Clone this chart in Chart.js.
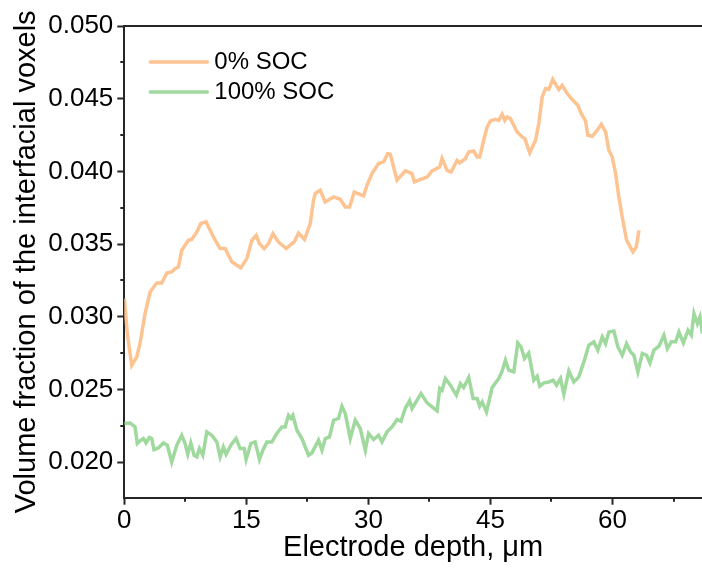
<!DOCTYPE html>
<html>
<head>
<meta charset="utf-8">
<title>Interfacial voxels vs electrode depth</title>
<script src="https://cdn.jsdelivr.net/npm/chart.js@4.4.1/dist/chart.umd.min.js"></script>
<style>
  html, body { margin: 0; padding: 0; background: #fff; }
  canvas { display: block; }
</style>
</head>
<body>
<canvas id="depthChart" width="702" height="570"></canvas>
<script>
const depthTicks = [0, 15, 30, 45, 60];
const fractionTicks = [0.020, 0.025, 0.030, 0.035, 0.040, 0.045, 0.050];
const seriesLabels = ["0% SOC", "100% SOC"];

// 0% SOC profile
const soc0Depth = [0.0, 0.37, 0.91, 1.53, 1.93, 2.55, 3.17, 3.99, 4.60, 5.22, 5.83, 6.24, 6.64, 7.06, 7.87, 8.29, 8.91, 9.40, 10.05, 10.55,
  11.16, 11.78, 12.39, 13.22, 13.83, 14.32, 15.06, 15.68, 16.21, 16.61, 17.19, 17.72, 18.26, 18.95, 19.90, 20.60, 20.88, 21.41, 22.15, 22.85,
  23.26, 23.47, 24.08, 24.69, 25.72, 26.54, 27.16, 27.69, 28.26, 29.41, 29.83, 30.44, 31.25, 31.87, 32.36, 32.69, 33.52, 34.54, 35.36, 35.65,
  36.39, 37.21, 37.82, 38.76, 39.05, 39.67, 40.16, 40.90, 41.22, 41.92, 42.33, 42.94, 43.36, 43.68, 44.17, 44.59, 45.00, 45.61, 46.02, 46.44,
  46.76, 47.05, 47.46, 48.28, 48.90, 49.22, 49.83, 50.54, 50.94, 51.36, 51.77, 52.17, 52.66, 53.40, 53.82, 54.44, 55.05, 55.74, 56.16, 56.69,
  56.97, 57.51, 58.13, 58.62, 59.15, 59.55, 59.97, 60.38, 60.78, 61.20, 61.73, 62.51, 62.93, 63.25];
const soc0Fraction = [0.03125, 0.02884, 0.02666, 0.02723, 0.02816, 0.03022, 0.0317, 0.03232, 0.03232, 0.03301, 0.03308, 0.03331, 0.03342, 0.03457, 0.03526, 0.03531, 0.03583, 0.03641, 0.03652, 0.03595,
  0.03526, 0.03469, 0.03469, 0.03377, 0.03354, 0.03336, 0.0340, 0.03526, 0.0356, 0.03503, 0.03469, 0.03503, 0.03572, 0.03514, 0.03469, 0.03503, 0.03514, 0.03576, 0.03531, 0.03641,
  0.03801, 0.03849, 0.0387, 0.03789, 0.03824, 0.03808, 0.03755, 0.03755, 0.03858, 0.03831, 0.03904, 0.03985, 0.04054, 0.04065, 0.04122, 0.04118, 0.03939, 0.04003, 0.03985, 0.03927,
  0.03944, 0.03961, 0.04003, 0.0403, 0.04088, 0.04007, 0.03996, 0.04076, 0.04058, 0.04088, 0.04133, 0.0414, 0.04099, 0.04099, 0.04214, 0.04305, 0.04347, 0.04358, 0.04351, 0.04393,
  0.04351, 0.04374, 0.04363, 0.04271, 0.04237, 0.04226, 0.04127, 0.04214, 0.04329, 0.04512, 0.04569, 0.04563, 0.04633, 0.04563, 0.04592, 0.04535, 0.04494, 0.04455, 0.04397, 0.04347,
  0.04248, 0.04241, 0.04283, 0.04324, 0.04271, 0.04145, 0.04099, 0.03985, 0.03824, 0.03686, 0.03526, 0.03446, 0.0348, 0.03595];

// 100% SOC profile
const soc100Depth = [0.0, 0.70, 1.32, 1.60, 2.02, 2.34, 2.67, 3.08, 3.37, 3.65, 4.18, 4.80, 5.29, 5.83, 6.45, 7.06, 7.47, 7.80, 8.17, 8.58,
  8.91, 9.23, 9.65, 10.14, 10.75, 11.37, 11.78, 12.18, 12.51, 13.09, 13.74, 14.24, 14.73, 14.97, 15.55, 16.08, 16.61, 17.03, 17.52, 18.14,
  18.75, 19.37, 19.77, 20.18, 20.48, 20.72, 21.21, 21.83, 22.64, 23.06, 23.87, 24.29, 24.70, 25.22, 25.72, 26.33, 26.75, 27.16, 27.77, 28.39,
  29.00, 29.62, 30.02, 30.64, 31.25, 31.67, 32.29, 32.90, 33.52, 34.01, 34.54, 35.07, 35.36, 35.98, 36.47, 37.21, 37.82, 38.44, 38.76, 39.05,
  39.46, 40.08, 40.81, 41.31, 41.71, 42.33, 42.87, 43.36, 43.68, 43.98, 44.51, 45.21, 46.02, 46.44, 46.84, 47.25, 47.87, 48.36, 48.77, 49.18,
  49.71, 50.33, 50.74, 51.06, 51.56, 52.17, 52.71, 53.12, 53.61, 54.02, 54.63, 55.25, 55.86, 56.48, 57.09, 57.71, 58.20, 58.74, 59.15, 59.55,
  60.17, 60.66, 61.20, 61.73, 62.22, 62.63, 63.12, 63.66, 64.19, 64.60, 65.09, 65.71, 66.32, 66.74, 67.23, 67.76, 68.17, 68.71, 69.28, 69.69,
  70.01, 70.43, 70.75, 71.05];
const soc100Fraction = [0.02265, 0.02269, 0.02242, 0.02128, 0.0215, 0.02162, 0.02132, 0.02169, 0.02162, 0.02086, 0.02097, 0.02132, 0.02116, 0.02001, 0.02116, 0.02185, 0.02128, 0.02054, 0.02132, 0.02047,
  0.02036, 0.02093, 0.02047, 0.02208, 0.02185, 0.02139, 0.02036, 0.02104, 0.02054, 0.02116, 0.02162, 0.02093, 0.02093, 0.02018, 0.02128, 0.02139, 0.02018, 0.02082, 0.02139, 0.02139,
  0.02197, 0.02242, 0.02242, 0.02322, 0.023, 0.02322, 0.02219, 0.02162, 0.02047, 0.02063, 0.0215, 0.02082, 0.02162, 0.02173, 0.02288, 0.023, 0.02384, 0.02334, 0.02162, 0.02288,
  0.02231, 0.02082, 0.02197, 0.02155, 0.02185, 0.02139, 0.02208, 0.02242, 0.02293, 0.0228, 0.0237, 0.02422, 0.02368, 0.02426, 0.02472, 0.02407, 0.0238, 0.02352, 0.02506, 0.02494,
  0.02575, 0.02529, 0.0246, 0.0254, 0.02513, 0.02582, 0.02437, 0.02437, 0.02384, 0.02414, 0.02345, 0.02513, 0.02575, 0.02627, 0.02701, 0.02632, 0.0262, 0.0282, 0.02792, 0.02712,
  0.0275, 0.02563, 0.02591, 0.02522, 0.02545, 0.02551, 0.02563, 0.02529, 0.02575, 0.02467, 0.02627, 0.02551, 0.02586, 0.02689, 0.02804, 0.02827, 0.0277, 0.02861, 0.02815, 0.02895,
  0.02902, 0.02792, 0.02735, 0.02815, 0.02758, 0.02735, 0.0262, 0.02747, 0.02735, 0.02682, 0.0277, 0.02797, 0.02873, 0.02781, 0.02827, 0.02827, 0.02895, 0.0282, 0.02907, 0.02873,
  0.03022, 0.02953, 0.02999, 0.02884];

const orange = "#FDC391";
const green = "#9FD99D";
const axisColor = "#262626";
const fontFamily = "'Liberation Sans', Arial, sans-serif";

function toPoints(xs, ys) {
    return xs.map((x, i) => ({ x: x, y: ys[i] }));
}

// half-step ticks between the labelled ones
function minorValues(major, min, max) {
    const half = (major[1] - major[0]) / 2;
    const out = [];
    major.forEach(v => {
        [v - half, v + half].forEach(m => {
            if (m > min && m < max && !out.some(o => Math.abs(o - m) < half / 10)) out.push(m);
        });
    });
    return out;
}

const frameAndMinorTicks = {
    id: "frameAndMinorTicks",
    afterDraw(chart) {
        const ctx = chart.ctx;
        const area = chart.chartArea;
        const xs = chart.scales.x;
        const ys = chart.scales.y;
        ctx.save();
        ctx.strokeStyle = axisColor;
        ctx.lineWidth = 2;
        ctx.beginPath();
        ctx.moveTo(area.left - 1, area.top);
        ctx.lineTo(area.right, area.top);
        minorValues(depthTicks, xs.min, xs.max).forEach(v => {
            const px = Math.round(xs.getPixelForValue(v));
            ctx.moveTo(px, area.bottom);
            ctx.lineTo(px, area.bottom + 4);
        });
        minorValues(fractionTicks, ys.min, ys.max).forEach(v => {
            const py = Math.round(ys.getPixelForValue(v));
            ctx.moveTo(area.left - 4, py);
            ctx.lineTo(area.left, py);
        });
        ctx.stroke();
        ctx.restore();
    }
};

// legend sits inside the plot, top left
const insideLegend = {
    id: "insideLegend",
    afterDraw(chart) {
        const ctx = chart.ctx;
        const area = chart.chartArea;
        ctx.save();
        ctx.font = "24px " + fontFamily;
        ctx.textBaseline = "middle";
        ctx.textAlign = "left";
        chart.data.datasets.forEach((ds, i) => {
            const y = area.top + 36 + i * 30;
            const x = area.left + 26;
            ctx.strokeStyle = ds.borderColor;
            ctx.lineWidth = 3.5;
            ctx.lineCap = "round";
            ctx.beginPath();
            ctx.moveTo(x, y);
            ctx.lineTo(x + 57, y);
            ctx.stroke();
            ctx.fillStyle = "#000";
            ctx.fillText(ds.label, x + 64, y);
        });
        ctx.restore();
    }
};

const ctx = document.getElementById("depthChart").getContext("2d");
new Chart(ctx, {
    type: "line",
    data: {
        datasets: [{
            label: seriesLabels[0],
            data: toPoints(soc0Depth, soc0Fraction),
            borderColor: orange,
            borderWidth: 3.5,
            pointRadius: 0,
            tension: 0
        }, {
            label: seriesLabels[1],
            data: toPoints(soc100Depth, soc100Fraction),
            borderColor: green,
            borderWidth: 3.5,
            pointRadius: 0,
            tension: 0
        }]
    },
    options: {
        responsive: false,
        animation: false,
        layout: { padding: { top: 26, right: 0, bottom: 0, left: 0 } },
        plugins: {
            legend: { display: false },
            tooltip: { enabled: false }
        },
        scales: {
            x: {
                type: "linear",
                min: 0,
                max: 71,
                afterBuildTicks: scale => { scale.ticks = depthTicks.map(v => ({ value: v })); },
                afterFit: scale => { scale.height = 72.3; },
                border: { display: true, color: axisColor, width: 2 },
                grid: { drawOnChartArea: false, drawTicks: true, tickLength: 7, tickColor: axisColor, tickWidth: 2 },
                ticks: {
                    color: "#000",
                    padding: 1,
                    maxRotation: 0,
                    font: { family: fontFamily, size: 26 }
                },
                title: {
                    display: true,
                    text: "Electrode depth, μm",
                    color: "#000",
                    font: { family: fontFamily, size: 29 },
                    padding: { top: 0, bottom: 5 }
                }
            },
            y: {
                min: 0.01755,
                max: 0.050,
                afterBuildTicks: scale => { scale.ticks = fractionTicks.map(v => ({ value: v })); },
                afterFit: scale => { scale.width = 124.3; },
                border: { display: true, color: axisColor, width: 2 },
                grid: { drawOnChartArea: false, drawTicks: true, tickLength: 7, tickColor: axisColor, tickWidth: 2 },
                ticks: {
                    color: "#000",
                    padding: 4,
                    font: { family: fontFamily, size: 26 },
                    callback: v => v.toFixed(3)
                },
                title: {
                    display: true,
                    text: "Volume fraction of the interfacial voxels",
                    color: "#000",
                    font: { family: fontFamily, size: 29 },
                    padding: { top: 10, bottom: 0 }
                }
            }
        }
    },
    plugins: [frameAndMinorTicks, insideLegend]
});
</script>
</body>
</html>
